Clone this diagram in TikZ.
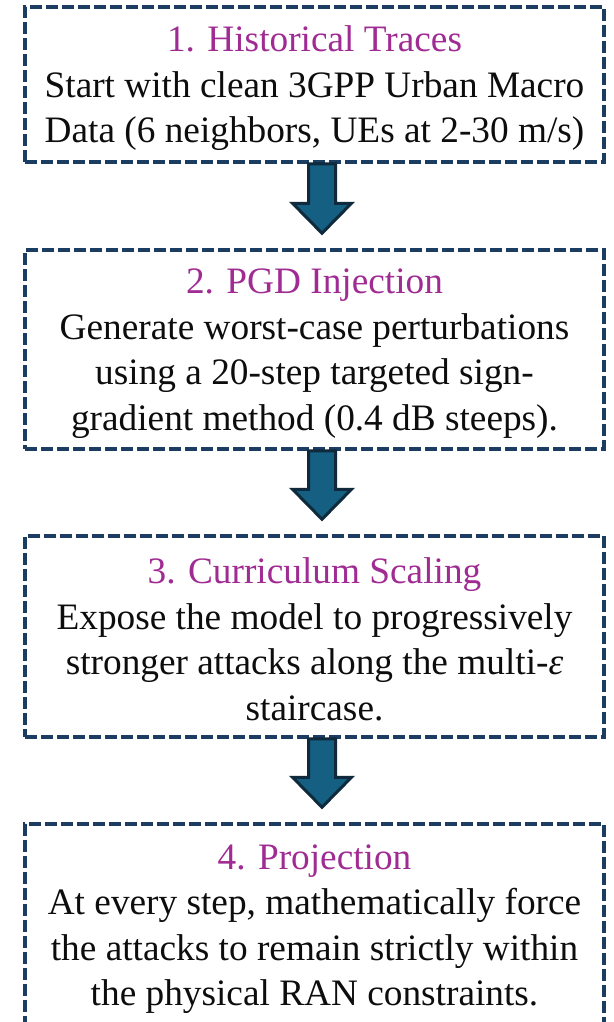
\documentclass[tikz,border=0pt]{standalone}
\usepackage{fontspec}
\setmainfont{LiberationSerif}[Extension=.ttf, UprightFont=*-Regular, ItalicFont=*-Italic, BoldFont=*-Bold, BoldItalicFont=*-BoldItalic]
\usetikzlibrary{calc}

\definecolor{boxline}{HTML}{1B3D62}
\definecolor{titlecol}{HTML}{A02B93}
\definecolor{arrowfill}{HTML}{156082}
\definecolor{arrowline}{HTML}{0E2A3C}
\definecolor{bodytext}{HTML}{0D0D0D}

\tikzset{
  stagebox/.style={draw=boxline, line width=3.5pt, dash pattern=on 12pt off 4pt,
    minimum width=579pt, inner sep=0pt},
  stagetext/.style={inner sep=0pt, align=center, text=bodytext,
    font=\rmfamily\fontsize{37.3pt}{45.5pt}\selectfont},
  blockarrow/.style={fill=arrowfill, draw=arrowline, line width=3pt, line join=miter},
}
\newcommand\stagetitle[1]{\textcolor{titlecol}{#1}}

% downward block arrow from the bottom of one stage to just above the next
\newcommand\flowarrow[2]{%
  \path[blockarrow] let \p1=($(#1.south)+(7.5pt,0)$), \p2=($(#2.north)+(7.5pt,15pt)$) in
    (\x1-13.5pt,\y1) -- (\x1+13.5pt,\y1) -- (\x1+13.5pt,\y2+30pt) -- (\x1+29.5pt,\y2+30pt)
    -- (\x1,\y2) -- (\x1-29.5pt,\y2+30pt) -- (\x1-13.5pt,\y2+30pt) -- cycle;}

\begin{document}
\begin{tikzpicture}[x=1pt,y=1pt]
\useasboundingbox (0,0) rectangle (613,-1022);

% stage frames
\node[stagebox, minimum height=155pt] (b1) at (314.5,-84.5) {};
\node[stagebox, minimum height=199pt] (b2) at (314.5,-349.5) {};
\node[stagebox, minimum height=201pt] (b3) at (314.5,-636.5) {};
\node[stagebox, minimum height=202pt] (b4) at (314.5,-925) {};

% stage texts
\node[stagetext] (t1) at ([yshift=-4pt]b1.center)
  {\stagetitle{1. Historical Traces}\\
   Start with clean 3GPP Urban Macro\\
   Data (6 neighbors, UEs at 2-30 m/s)};

\node[stagetext] (t2) at ([yshift=-4pt]b2.center)
  {\stagetitle{2. PGD Injection}\\
   Generate worst-case perturbations\\
   using a 20-step targeted sign-\\
   gradient method (0.4 dB steeps).};

\node[stagetext] (t3) at ([yshift=-3pt]b3.center)
  {\stagetitle{3. Curriculum Scaling}\\
   Expose the model to progressively\\
   stronger attacks along the multi-{\itshape ε}\\
   staircase.};

\node[stagetext] (t4) at ([yshift=-4pt]b4.center)
  {\stagetitle{4. Projection}\\
   At every step, mathematically force\\
   the attacks to remain strictly within\\
   the physical RAN constraints.};

\flowarrow{b1}{b2}
\flowarrow{b2}{b3}
\flowarrow{b3}{b4}
\end{tikzpicture}
\end{document}
